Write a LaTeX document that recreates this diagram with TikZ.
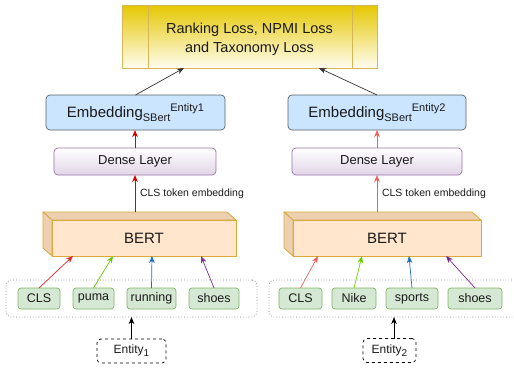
\documentclass[tikz,border=0pt]{standalone}
\usepackage{fontspec}
\setmainfont{Liberation Sans}
\usetikzlibrary{arrows.meta}
\definecolor{lossTop}{HTML}{E5C700}
\definecolor{lossBot}{HTML}{FFFDF0}
\definecolor{lossLine}{HTML}{D6B656}
\definecolor{embFill}{HTML}{CCE5FF}
\definecolor{embLine}{HTML}{5A6068}
\definecolor{denseBot}{HTML}{E1D5E7}
\definecolor{denseLine}{HTML}{9673A6}
\definecolor{bertFill}{HTML}{FFE6CC}
\definecolor{bertSide}{HTML}{EDD0B2}
\definecolor{bertLine}{HTML}{D9A93A}
\definecolor{tokFill}{HTML}{D5E8D4}
\definecolor{tokLine}{HTML}{82B366}
\definecolor{redA}{HTML}{D90000}
\definecolor{redB}{HTML}{E86060}
\definecolor{greenA}{HTML}{66CC00}
\definecolor{blueA}{HTML}{1F6FBF}
\definecolor{purpleA}{HTML}{7A2A8A}
\definecolor{txt}{HTML}{1A1A1A}
\begin{document}
\begin{tikzpicture}[x=1pt,y=-1pt,
  every node/.style={text=txt, inner sep=0pt, outer sep=0pt},
  arr/.style={-{Stealth[length=7pt,width=5.5pt,inset=2pt]}, line width=0.7pt},
  lossbox/.style={draw=lossLine, line width=0.8pt, top color=lossTop, bottom color=lossBot},
  losstxt/.style={align=center, font=\fontsize{14.5}{19}\selectfont},
  embbox/.style={draw=embLine, fill=embFill, rounded corners=4pt, line width=0.7pt, minimum height=35pt, font=\fontsize{15}{18}\selectfont},
  densebox/.style={draw=denseLine, top color=white, bottom color=denseBot, rounded corners=4pt, line width=0.7pt, minimum height=27pt, font=\fontsize{13}{15}\selectfont},
  bertbox/.style={draw=bertLine, fill=bertFill, line width=0.8pt, minimum height=36pt, font=\fontsize{15}{18}\selectfont},
  tokbox/.style={draw=tokLine, fill=tokFill, rounded corners=3pt, line width=0.7pt, minimum height=21pt, font=\fontsize{12.5}{15}\selectfont},
  groupbox/.style={draw=black!45, dotted, line width=0.8pt, rounded corners=5pt},
  entbox/.style={draw=black, dashed, rounded corners=4pt, line width=0.7pt, minimum height=24pt, font=\fontsize{12}{14}\selectfont},
  small/.style={font=\fontsize{10.5}{12}\selectfont}
]
\useasboundingbox (0,0) rectangle (514,370);
\newcommand{\subsm}[1]{{\fontsize{11}{11}\selectfont\raisebox{-3.5pt}{#1}}}
\newcommand{\supsm}[1]{{\fontsize{11}{11}\selectfont\raisebox{6pt}{#1}}}
\newcommand{\entsub}[1]{{\fontsize{10}{10}\selectfont\raisebox{-3pt}{#1}}}

% loss box
\node[lossbox, minimum width=255pt, minimum height=63pt] (loss) at (249.5,36.5) {};
\draw[lossLine, line width=0.8pt] (148,5) -- (148,68) (352,5) -- (352,68);
\node[losstxt] (losstext) at ([yshift=-3pt]loss.center) {Ranking Loss, NPMI Loss\\and Taxonomy Loss};

% embeddings
\node[embbox, minimum width=179pt] (emb1) at (135.5,112.5) {Embedding\subsm{SBert}\supsm{Entity1}};
\node[embbox, minimum width=178pt] (emb2) at (377,112.5) {Embedding\subsm{SBert}\supsm{Entity2}};

% dense
\node[densebox, minimum width=162pt] (dense1) at (135,161.5) {Dense Layer};
\node[densebox, minimum width=170pt] (dense2) at (377,161.5) {Dense Layer};

% BERT cuboids
\node[bertbox, minimum width=184pt] (bert1) at (144,238) {BERT};
\node[bertbox, minimum width=188pt] (bert2) at (387,238) {BERT};
\foreach \b in {bert1,bert2}{
  \draw[bertLine, fill=bertSide, line width=0.8pt, line join=round]
    (\b.north west) -- ++(-9,-8) -- ([xshift=-9pt,yshift=8pt]\b.north east) -- (\b.north east) -- cycle;
  \draw[bertLine, fill=bertSide, line width=0.8pt, line join=round]
    (\b.north west) -- ++(-9,-8) -- ([xshift=-9pt,yshift=8pt]\b.south west) -- (\b.south west) -- cycle;
}

% token groups
\node[groupbox, minimum width=251pt, minimum height=37pt] (grp1) at (131.5,298.5) {};
\node[groupbox, minimum width=262pt, minimum height=37pt] (grp2) at (400,298.5) {};

\node[tokbox, minimum width=42pt] (t1a) at (39,298.5) {CLS};
\node[tokbox, minimum width=41pt] (t1b) at (93.5,298.5) {puma};
\node[tokbox, minimum width=49pt] (t1c) at (151.5,298.5) {running};
\node[tokbox, minimum width=50pt] (t1d) at (214,298.5) {shoes};
\node[tokbox, minimum width=43pt] (t2a) at (300.5,298.5) {CLS};
\node[tokbox, minimum width=44pt] (t2b) at (354,298.5) {Nike};
\node[tokbox, minimum width=52pt] (t2c) at (412,298.5) {sports};
\node[tokbox, minimum width=54pt] (t2d) at (475,298.5) {shoes};

% entities
\node[entbox, minimum width=69pt] (ent1) at (131.5,351) {Entity\entsub{1}};
\node[entbox, minimum width=53pt] (ent2) at (389.5,350.5) {Entity\entsub{2}};
\coordinate (e2top) at ([xshift=4.5pt]ent2.north);

% labels
\node[small, anchor=west] (lab1) at (140,194) {CLS token embedding};
\node[small, anchor=west] (lab2) at (382,194) {CLS token embedding};

% arrows
\draw[arr, black!80] (emb1.north) -- ([xshift=-65.5pt]loss.south);
\draw[arr, black!80] (emb2.north) -- ([xshift=69.5pt]loss.south);
\draw[arr, redA] (dense1.north) -- (emb1.south -| dense1.north);
\draw[arr, redB] (dense2.north) -- (emb2.south -| dense2.north);
\draw[arr, redA] ([yshift=8pt]bert1.north -| dense1.south) -- (dense1.south);
\draw[arr, redB] ([yshift=8pt]bert2.north -| dense2.south) -- (dense2.south);

\draw[arr, redA!85!white] (t1a.north) -- ([xshift=21pt]bert1.south west);
\draw[arr, greenA] (t1b.north) -- ([xshift=61pt]bert1.south west);
\draw[arr, blueA] (t1c.north) -- ([xshift=100pt]bert1.south west);
\draw[arr, purpleA] (t1d.north) -- ([xshift=149pt]bert1.south west);
\draw[arr, redB] (t2a.north) -- ([xshift=25pt]bert2.south west);
\draw[arr, greenA] (t2b.north) -- ([xshift=69pt]bert2.south west);
\draw[arr, blueA] (t2c.north) -- ([xshift=116pt]bert2.south west);
\draw[arr, purpleA] (t2d.north) -- ([xshift=153pt]bert2.south west);

\draw[arr, black] (ent1.north) -- (grp1.south -| ent1.north);
\draw[arr, black] (e2top) -- (grp2.south -| e2top);
\end{tikzpicture}
\end{document}
